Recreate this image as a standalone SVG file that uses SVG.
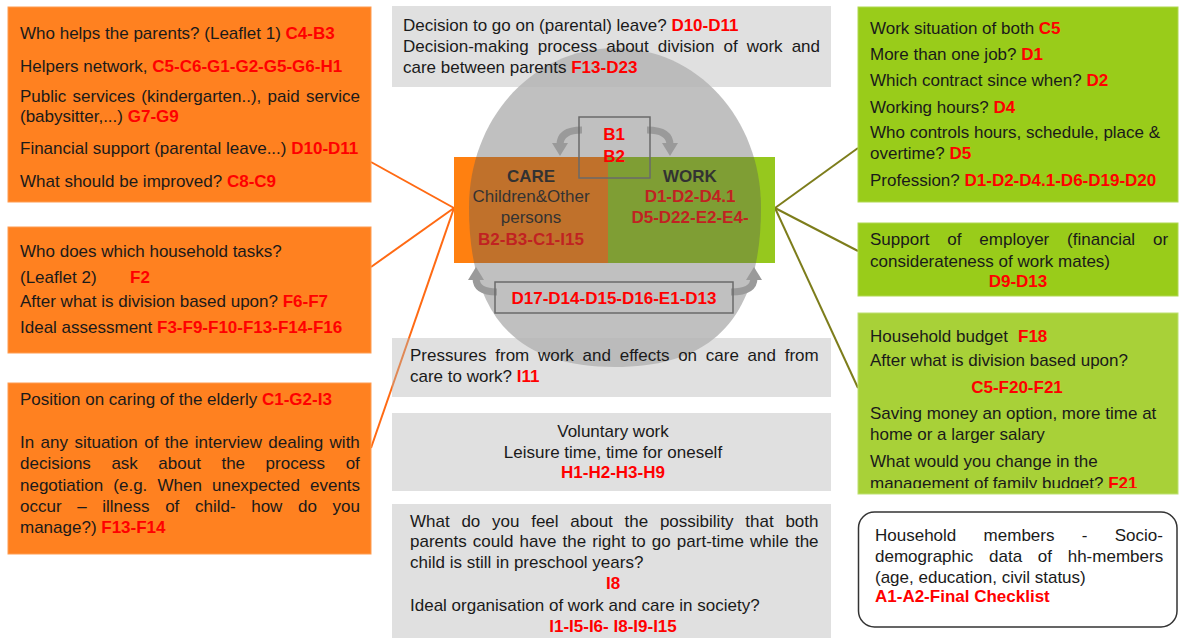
<svg xmlns="http://www.w3.org/2000/svg" width="1179" height="638" viewBox="0 0 1179 638">
<style>
text{font-family:"Liberation Sans",Arial,sans-serif;font-size:17px;fill:#1a1a1a}
.r{fill:#ff0000;font-weight:bold}
.b{font-weight:bold}
.c{text-anchor:middle}
.or{fill:#ff8120;stroke:#ff9c50;stroke-width:1}
.gr{fill:#99cc1a;stroke:#b0d850;stroke-width:1}
.gb{fill:#b3b3b3;fill-opacity:0.41}
.conL{stroke:#ff6a13;stroke-width:2;fill:none}
.conR{stroke:#7d7d1b;stroke-width:2;fill:none}
.hd{stroke:#9a9a9a;stroke-width:7;fill:none}
.frame{fill:none;stroke:#6a6a6a;stroke-width:1.5}
</style>
<defs>
<marker id="ah" markerUnits="userSpaceOnUse" markerWidth="18" markerHeight="18" refX="2" refY="9" orient="auto">
<path d="M0,1 L13,9 L0,17 Z" fill="#9a9a9a"/>
</marker>
<clipPath id="clipR3"><rect x="858" y="313" width="320" height="175"/></clipPath>
</defs>
<rect width="1179" height="638" fill="#ffffff"/>

<g id="connectors">
<path class="conL" d="M454,208 L371,162"/>
<path class="conL" d="M454,208 L371,267"/>
<path class="conL" d="M454,208 L371,448"/>
<path class="conR" d="M775,208 L858,148"/>
<path class="conR" d="M775,208 L858,251"/>
<path class="conR" d="M775,208 L858,388"/>
</g>

<g id="helpers">
<rect class="or" x="8" y="7" width="363" height="195"/>
<text x="20" y="39">Who helps the parents? (Leaflet 1) <tspan class="r">C4-B3</tspan></text>
<text x="20" y="72">Helpers network, <tspan class="r">C5-C6-G1-G2-G5-G6-H1</tspan></text>
<text x="20" y="102" word-spacing="1.6">Public services (kindergarten..), paid service</text>
<text x="20" y="122">(babysitter,...) <tspan class="r">G7-G9</tspan></text>
<text x="20" y="154">Financial support (parental leave...) <tspan class="r">D10-D11</tspan></text>
<text x="20" y="187">What should be improved? <tspan class="r">C8-C9</tspan></text>
</g>

<g id="household-tasks">
<rect class="or" x="8" y="227" width="363" height="126"/>
<text x="20" y="257">Who does which household tasks?</text>
<text x="20" y="283">(Leaflet 2)</text>
<text x="130" y="283" class="r">F2</text>
<text x="20" y="307">After what is division based upon? <tspan class="r">F6-F7</tspan></text>
<text x="20" y="333">Ideal assessment <tspan class="r">F3-F9-F10-F13-F14-F16</tspan></text>
</g>

<g id="elderly-negotiation">
<rect class="or" x="8" y="383" width="363" height="171"/>
<text x="20" y="405">Position on caring of the elderly <tspan class="r">C1-G2-I3</tspan></text>
<text x="20" y="448" word-spacing="1.7">In any situation of the interview dealing with</text>
<text x="20" y="469" word-spacing="15.8">decisions ask about the process of</text>
<text x="20" y="491" word-spacing="5.4">negotiation (e.g. When unexpected events</text>
<text x="20" y="512" word-spacing="10.9">occur – illness of child- how do you</text>
<text x="20" y="533">manage?) <tspan class="r">F13-F14</tspan></text>
</g>

<g id="work-situation">
<rect class="gr" x="858" y="7" width="320" height="195"/>
<text x="870" y="34">Work situation of both <tspan class="r">C5</tspan></text>
<text x="870" y="60">More than one job? <tspan class="r">D1</tspan></text>
<text x="870" y="86">Which contract since when? <tspan class="r">D2</tspan></text>
<text x="870" y="113">Working hours? <tspan class="r">D4</tspan></text>
<text x="870" y="138">Who controls hours, schedule, place &amp;</text>
<text x="870" y="159">overtime? <tspan class="r">D5</tspan></text>
<text x="870" y="186">Profession? <tspan class="r">D1-D2-D4.1-D6-D19-D20</tspan></text>
</g>

<g id="employer-support">
<rect class="gr" x="858" y="223" width="320" height="73"/>
<text x="870" y="245" word-spacing="13.1">Support of employer (financial or</text>
<text x="870" y="267">considerateness of work mates)</text>
<text x="1018" y="287" class="r c">D9-D13</text>
</g>

<g id="household-budget">
<rect x="858" y="313" width="320" height="181" fill="#a8d138" stroke="#bde070" stroke-width="1"/>
<g clip-path="url(#clipR3)">
<text x="870" y="342">Household budget</text>
<text x="1018" y="342" class="r">F18</text>
<text x="870" y="366">After what is division based upon?</text>
<text x="1017" y="393" class="r c">C5-F20-F21</text>
<text x="870" y="419">Saving money an option, more time at</text>
<text x="870" y="440">home or a larger salary</text>
<text x="870" y="467">What would you change in the</text>
<text x="870" y="489">management of family budget? <tspan class="r">F21</tspan></text>
</g>
</g>

<g id="household-members">
<rect x="858.5" y="512" width="318.5" height="115" rx="16" fill="#ffffff" stroke="#333333" stroke-width="1.5"/>
<text x="875" y="541" word-spacing="22.6">Household members - Socio-</text>
<text x="875" y="562" word-spacing="11">demographic data of hh-members</text>
<text x="875" y="583">(age, education, civil status)</text>
<text x="875" y="602" class="r">A1-A2-Final Checklist</text>
</g>

<g id="care-work">
<rect x="454" y="157" width="154" height="106" fill="#ff8010"/>
<rect x="608" y="157" width="167" height="106" fill="#96c81e"/>
<text x="531" y="182" class="b c" fill="#222">CARE</text>
<text x="531" y="202" class="c">Children&amp;Other</text>
<text x="531" y="223" class="c">persons</text>
<text x="531" y="245" class="r c">B2-B3-C1-I15</text>
<text x="690" y="182" class="b c">WORK</text>
<text x="690" y="202" class="r c">D1-D2-D4.1</text>
<text x="690" y="223" class="r c">D5-D22-E2-E4-</text>
</g>

<g id="pot">
<path d="M615,48 C696.8,48 761,118.2 761,207.5 C761,316 714.3,367 615,367 C515.7,367 469,316 469,207.5 C469,118.2 533.2,48 615,48 Z" fill="#5a5a5a" fill-opacity="0.38"/>
</g>

<g id="decision-leave">
<rect class="gb" x="392" y="6" width="439" height="81"/>
<text x="403" y="31">Decision to go on (parental) leave? <tspan class="r">D10-D11</tspan></text>
<text x="403" y="52" word-spacing="4.3">Decision-making process about division of work and</text>
<text x="403" y="73">care between parents <tspan class="r">F13-D23</tspan></text>
</g>

<g id="pressures">
<rect class="gb" x="392" y="338" width="439" height="59"/>
<text x="410" y="361" word-spacing="4">Pressures from work and effects on care and from</text>
<text x="410" y="382">care to work? <tspan class="r">I11</tspan></text>
</g>

<g id="voluntary">
<rect class="gb" x="392" y="413" width="439" height="78"/>
<text x="613" y="437" class="c">Voluntary work</text>
<text x="613" y="458" class="c">Leisure time, time for oneself</text>
<text x="613" y="478" class="r c">H1-H2-H3-H9</text>
</g>

<g id="part-time">
<rect class="gb" x="392" y="504" width="439" height="134"/>
<text x="410" y="527" word-spacing="7">What do you feel about the possibility that both</text>
<text x="410" y="547" word-spacing="1.4">parents could have the right to go part-time while the</text>
<text x="410" y="568">child is still in preschool years?</text>
<text x="613" y="589" class="r c">I8</text>
<text x="410" y="611">Ideal organisation of work and care in society?</text>
<text x="613" y="632" class="r c">I1-I5-I6- I8-I9-I15</text>
</g>

<g id="handles">
<path class="hd" d="M582,130 Q560,130 560,145" marker-end="url(#ah)"/>
<path class="hd" d="M647,130 Q670,130 670,145" marker-end="url(#ah)"/>
<path class="hd" d="M497,292 Q476,292 476,278" marker-end="url(#ah)"/>
<path class="hd" d="M731,292 Q754,292 754,278" marker-end="url(#ah)"/>
</g>

<g id="b1-b2">
<rect class="frame" x="579" y="117" width="71" height="61"/>
<text x="614" y="140" class="r c">B1</text>
<text x="614" y="162" class="r c">B2</text>
</g>

<g id="d17">
<rect class="frame" x="495" y="282" width="238" height="31"/>
<text x="614" y="304" class="r c">D17-D14-D15-D16-E1-D13</text>
</g>
</svg>
